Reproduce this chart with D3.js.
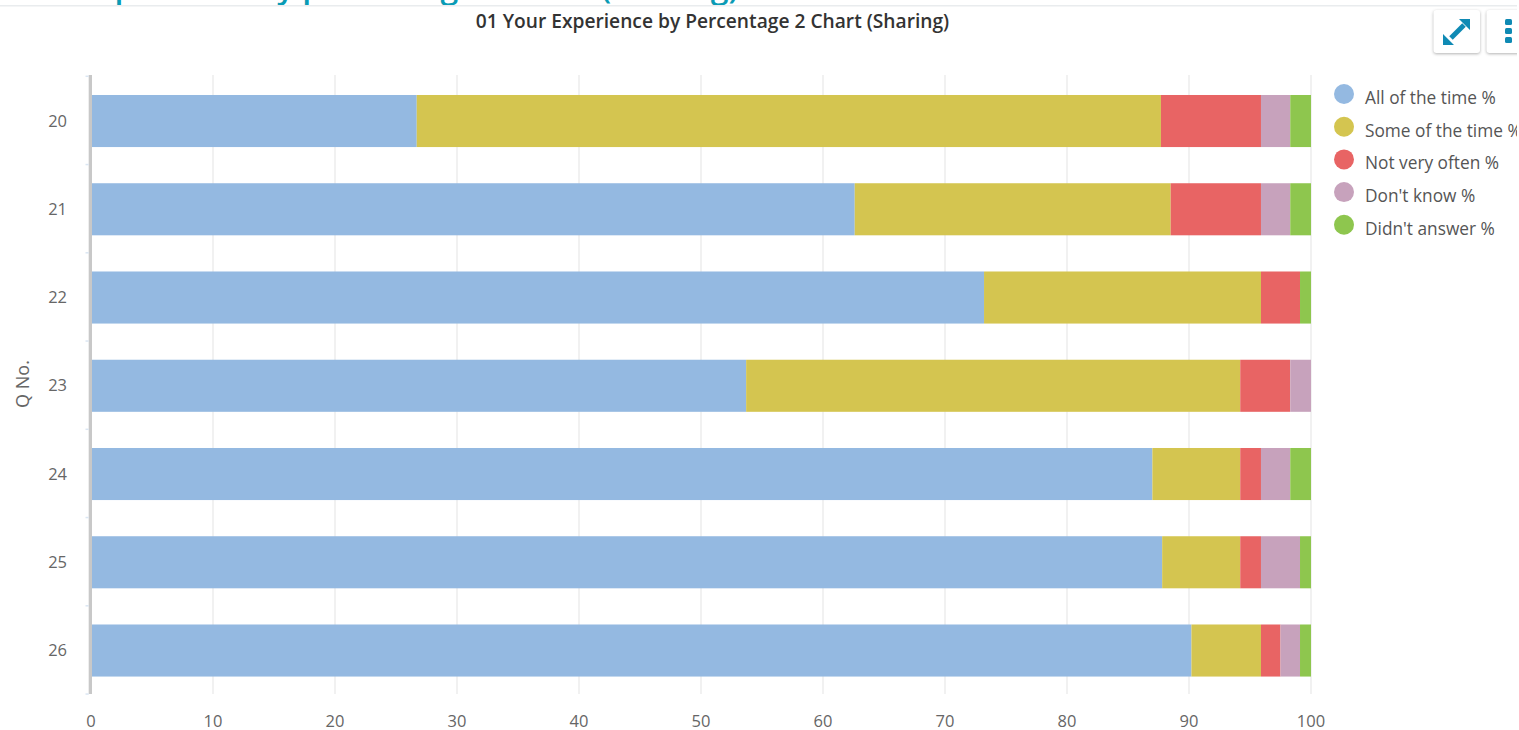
<!DOCTYPE html>
<html>
<head>
<meta charset="utf-8">
<title>01 Your Experience by Percentage 2 Chart (Sharing)</title>
<script src="https://cdnjs.cloudflare.com/ajax/libs/d3/7.8.5/d3.min.js"></script>
<style>
  html, body { margin: 0; padding: 0; background: #fff; overflow: hidden; }
  svg { display: block; font-family: "Open Sans", sans-serif; }
</style>
</head>
<body>
<svg id="chart" width="1519" height="730"></svg>
<script>
var questions = ['20', '21', '22', '23', '24', '25', '26'];
var seriesNames = ['All of the time %', 'Some of the time %', 'Not very often %', "Don't know %", "Didn't answer %"];
var allOfTheTime = [26.7, 62.6, 73.2, 53.7, 87.0, 87.8, 90.2];
var someOfTheTime = [61.0, 25.9, 22.7, 40.5, 7.2, 6.4, 5.7];
var notVeryOften = [8.2, 7.4, 3.2, 4.1, 1.7, 1.7, 1.6];
var dontKnow = [2.4, 2.4, 0, 1.7, 2.4, 3.2, 1.6];
var didntAnswer = [1.7, 1.7, 0.9, 0, 1.7, 0.9, 0.9];
var seriesColors = ['#94b9e1', '#d4c550', '#e86464', '#c7a2bc', '#8ec64e'];
var xTicks = [0, 10, 20, 30, 40, 50, 60, 70, 80, 90, 100];

var svg = d3.select('#chart');
var x = d3.scaleLinear().domain([0, 100]).range([91, 1311]);
var y = d3.scaleBand().domain(questions).range([76.9, 694.65]).paddingInner(0.41).paddingOuter(0.205);

// page heading cut off by the top of the screenshot
svg.append('text')
  .attr('x', 79).attr('y', -2)
  .attr('font-size', 32).attr('font-weight', 600).attr('fill', '#0a9bb5')
  .text('Experience by percentage 2 chart (Sharing)');

svg.append('rect').attr('x', 0).attr('y', 5).attr('width', 1519).attr('height', 1.5).attr('fill', '#e9ecee');

svg.append('text')
  .attr('x', 712.5).attr('y', 28)
  .attr('text-anchor', 'middle')
  .attr('font-size', 19.2).attr('font-weight', 600).attr('fill', '#333')
  .text('01 Your Experience by Percentage 2 Chart (Sharing)');

// gridlines
svg.append('g').selectAll('line')
  .data(xTicks.slice(1))
  .enter().append('line')
  .attr('x1', function (d) { return x(d); })
  .attr('x2', function (d) { return x(d); })
  .attr('y1', 75).attr('y2', 694)
  .attr('stroke', '#ececec').attr('stroke-width', 1.5);

// stacked bars
var rows = questions.map(function (q, i) {
  return {
    q: q,
    a: allOfTheTime[i], b: someOfTheTime[i], c: notVeryOften[i], d: dontKnow[i], e: didntAnswer[i]
  };
});
var keys = ['a', 'b', 'c', 'd', 'e'];
var stack = d3.stack().keys(keys)(rows);

svg.append('g').selectAll('g')
  .data(stack)
  .enter().append('g')
  .attr('fill', function (s, i) { return seriesColors[i]; })
  .selectAll('rect')
  .data(function (s) { return s; })
  .enter().append('rect')
  .attr('x', function (d) { return x(d[0]); })
  .attr('width', function (d) { return x(d[1]) - x(d[0]); })
  .attr('y', function (d) { return y(d.data.q); })
  .attr('height', y.bandwidth());

// y axis line and small ticks
svg.append('rect').attr('x', 88.7).attr('y', 75).attr('width', 3.3).attr('height', 619).attr('fill', '#c8c8c8');
svg.append('g').selectAll('line')
  .data(d3.range(questions.length + 1))
  .enter().append('line')
  .attr('x1', 85.5).attr('x2', 88.7)
  .attr('y1', function (d) { return 76.3 + d * y.step(); })
  .attr('y2', function (d) { return 76.3 + d * y.step(); })
  .attr('stroke', '#dbe6f2').attr('stroke-width', 1.5);

// tick labels
svg.append('g').selectAll('text')
  .data(questions)
  .enter().append('text')
  .attr('x', 67)
  .attr('y', function (d) { return y(d) + y.bandwidth() / 2 + 5.5; })
  .attr('text-anchor', 'end')
  .attr('font-size', 16.5).attr('fill', '#666')
  .text(function (d) { return d; });

svg.append('g').selectAll('text')
  .data(xTicks)
  .enter().append('text')
  .attr('x', function (d) { return x(d); })
  .attr('y', 727)
  .attr('text-anchor', 'middle')
  .attr('font-size', 16.5).attr('fill', '#666')
  .text(function (d) { return d; });

svg.append('text')
  .attr('transform', 'translate(29,384) rotate(-90)')
  .attr('text-anchor', 'middle')
  .attr('font-size', 18).attr('fill', '#666')
  .text('Q No.');

// legend
var legend = svg.append('g').selectAll('g')
  .data(seriesNames)
  .enter().append('g')
  .attr('transform', function (d, i) { return 'translate(1344,' + (94 + i * 32.7) + ')'; });
legend.append('circle').attr('r', 10).attr('fill', function (d, i) { return seriesColors[i]; });
legend.append('text')
  .attr('x', 21).attr('y', 10)
  .attr('font-size', 17.3).attr('fill', '#555')
  .text(function (d) { return d; });

// toolbar buttons
function button(bx) {
  svg.append('rect')
    .attr('x', bx).attr('y', 10).attr('width', 46.5).attr('height', 43).attr('rx', 3)
    .attr('fill', '#fff')
    .style('filter', 'drop-shadow(0 1px 1.5px rgba(0,0,0,0.3))');
}
button(1433.5);
button(1486.5);
var blue = '#0f8ab4';
svg.append('path')
  .attr('d', 'M1451 38L1464 25')
  .attr('fill', 'none').attr('stroke', blue).attr('stroke-width', 5);
svg.append('path')
  .attr('d', 'M1459 19L1470 19L1470 30ZM1443 34L1443 45L1454 45Z')
  .attr('fill', blue);
svg.append('g').selectAll('rect')
  .data([19, 28, 37])
  .enter().append('rect')
  .attr('x', 1505).attr('y', function (d) { return d; })
  .attr('width', 7).attr('height', 6).attr('rx', 1.5).attr('fill', blue);

// the reference is cropped two pixels short of the window width
svg.append('rect').attr('x', 1517).attr('y', 0).attr('width', 2).attr('height', 730).attr('fill', '#fff');
</script>
</body>
</html>
